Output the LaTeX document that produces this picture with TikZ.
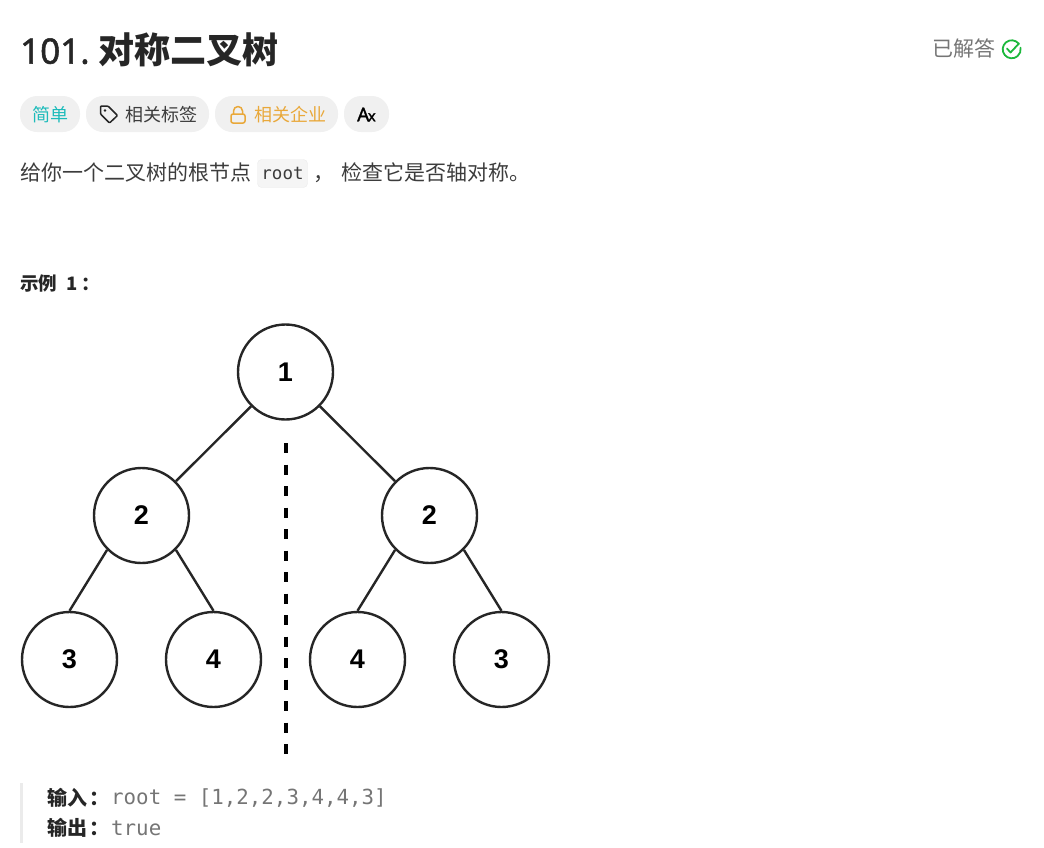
\documentclass[tikz,border=0pt]{standalone}
\usepackage{fontspec}
\usepackage{xcolor}
\usetikzlibrary{positioning}
\setmainfont{Noto Sans CJK SC}
\setmonofont{DejaVu Sans Mono}
\newfontfamily\digitfont{Liberation Sans}
\newfontfamily\titlefont[FakeBold=1.5]{Noto Sans}
\definecolor{inkdark}{HTML}{262626}
\definecolor{inkbody}{HTML}{3C3C3C}
\definecolor{inkgrey}{HTML}{757575}
\definecolor{pillgrey}{HTML}{F0F0F0}
\definecolor{tealtext}{HTML}{1CBBBA}
\definecolor{goldtext}{HTML}{E9A83A}
\definecolor{donegreen}{HTML}{1CB83C}

\begin{document}
\begin{tikzpicture}[
  x=1pt, y=-1pt,
  txt/.style={inner sep=0pt, anchor=west, text height=17pt, text depth=4pt, font=\fontsize{21}{24}\selectfont, text=inkbody},
  pill/.style={rectangle, rounded corners=17pt, fill=pillgrey, minimum height=36pt, inner sep=0pt},
  pilltxt/.style={inner sep=0pt, anchor=west, font=\fontsize{18}{22}\selectfont, text=inkbody},
  treenode/.style={circle, draw=inkdark, line width=2.4pt, fill=white, minimum size=95pt, inner sep=0pt,
                   font=\digitfont\bfseries\fontsize{27}{30}\selectfont, text=black},
  edge/.style={line width=2.4pt, draw=inkdark},
  iconline/.style={line width=1.5pt, line join=round, line cap=round},
  boldlabel/.style={inner sep=0pt, anchor=west, text=inkdark, font=\fontsize{20}{22}\selectfont\bfseries},
  monoval/.style={inner sep=0pt, anchor=west, text=inkgrey, font=\ttfamily\fontsize{20.8}{24}\selectfont}
]
\useasboundingbox (0,0) rectangle (1044,847);
% header
\node[inner sep=0pt, anchor=west, text=inkdark, font=\fontsize{36}{40}\selectfont\bfseries] (title) at (20,50) {{\titlefont\fontsize{35}{40}\selectfont 101.}\kern9pt 对称二叉树};
\node[txt, text=inkgrey] (solved) at (932,50) {已解答};
\draw[iconline, donegreen, line width=1.8pt] (1018.6,43.5) arc[start angle=-40, end angle=-370, radius=9];
\draw[iconline, donegreen, line width=1.8pt] (1007,48.5) -- (1010.5,52.5) -- (1019,43.5);
% pills
\node[pill, minimum width=60pt] (easy) at (50,114) {};
\node[pilltxt, text=tealtext] (easytxt) at (32,114.5) {简单};
\node[pill, minimum width=123pt] (tags) at (147.5,114) {};
\node[pilltxt] (tagstxt) at (125,114.5) {相关标签};
\draw[iconline, inkdark, rounded corners=1pt] (100.5,106) -- (108,106) -- (117.5,115.5) -- (109.5,123) -- (100.5,114) -- cycle;
\fill[inkdark] (105,110.5) circle (1.3pt);
\node[pill, minimum width=123pt] (firms) at (276.5,114) {};
\node[pilltxt, text=goldtext] (firmstxt) at (254,114.5) {相关企业};
\draw[iconline, goldtext, rounded corners=2pt] (231,114) rectangle (245,123);
\draw[iconline, goldtext] (233.5,114) -- (233.5,111) arc[start angle=180, end angle=360, radius=4.5] -- (242.5,114);
\node[pill, minimum width=45pt] (lang) at (366.5,114) {};
\node[inner sep=0pt, text=black, font=\titlefont\fontsize{19}{22}\selectfont] (langtxt) at (366.5,114.5) {A\kern-1.5pt\fontsize{15}{22}\selectfont x};
% body
\node[txt] (intro) at (20,173.5) {给你一个二叉树的根节点};
\node[draw=black!8, fill=black!4, rounded corners=4pt, minimum width=50pt, minimum height=28pt, inner sep=0pt,
      font=\ttfamily\fontsize{17.5}{20}\selectfont, text=inkbody] (rootcode) at (282.5,173.5) {root};
\node[txt] (comma) at (313,173.5) {，};
\node[txt] (introrest) at (341,173.5) {检查它是否轴对称。};
\node[boldlabel, font=\fontsize{18.5}{22}\selectfont\bfseries] (example) at (20,283.5) {示例\kern9pt 1\kern4pt：};
% tree
\coordinate (axistop) at (286,443);
\coordinate (axisbot) at (286,756);
\draw[line width=3.6pt, black, dash pattern=on 10pt off 11.5pt] (axistop) -- (axisbot);
\node[treenode] (n1) at (285.5,372) {1};
\node[treenode] (n2l) at (141.5,515.5) {2};
\node[treenode] (n2r) at (429.5,515.5) {2};
\node[treenode] (n3l) at (69.5,659.5) {3};
\node[treenode] (n4l) at (213.5,659.5) {4};
\node[treenode] (n4r) at (357.5,659.5) {4};
\node[treenode] (n3r) at (501.5,659.5) {3};
\draw[edge] (n1) -- (n2l);
\draw[edge] (n1) -- (n2r);
\draw[edge] (n2l.south west) -- (n3l.north);
\draw[edge] (n2l.south east) -- (n4l.north);
\draw[edge] (n2r.south west) -- (n4r.north);
\draw[edge] (n2r.south east) -- (n3r.north);
% result block
\coordinate (bartop) at (21.5,783);
\coordinate (barbot) at (21.5,843);
\draw[line width=3pt, draw=black!8] (bartop) -- (barbot);
\node[boldlabel] (inlabel) at (47,798) {输入\kern2pt：};
\node[monoval] (inval) at (111,798) {root = [1,2,2,3,4,4,3]};
\node[boldlabel] (outlabel) at (47,828) {输出\kern2pt：};
\node[monoval] (outval) at (111,828) {true};
\end{tikzpicture}
\end{document}
